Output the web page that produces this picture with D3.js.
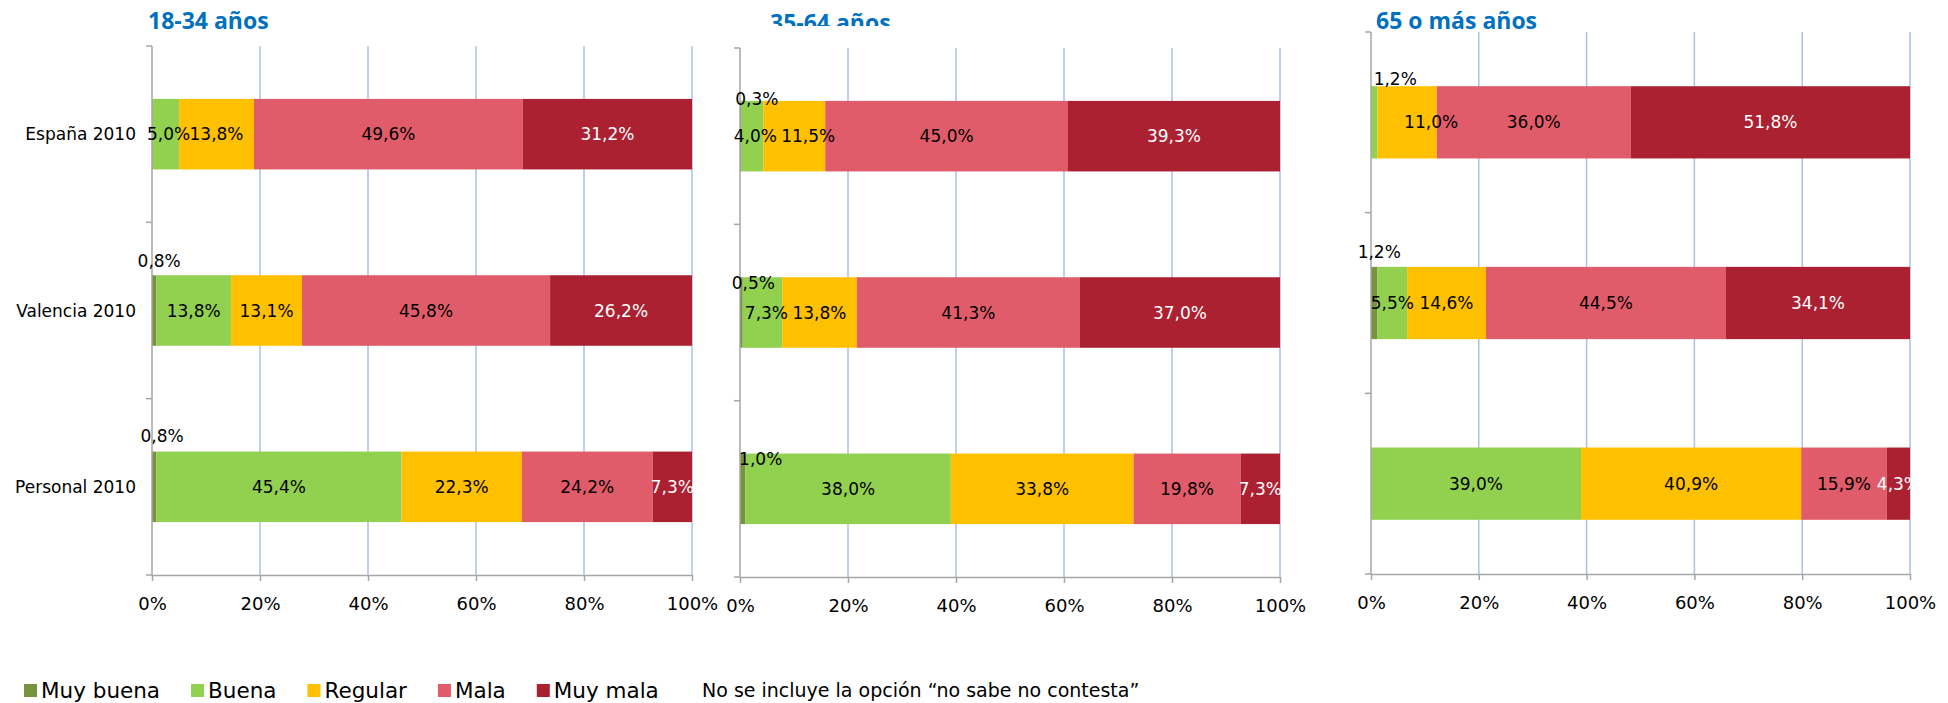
<!DOCTYPE html>
<html><head><meta charset="utf-8">
<script src="https://cdn.jsdelivr.net/npm/d3@7"></script>
<style>body{margin:0;background:#fff;} svg{display:block;}</style>
</head><body><svg id="c" width="1948" height="703"></svg>
<script>
// ---- data ----
const panels = ["18-34 años", "35-64 años", "65 o más años"];
const categories = ["España 2010", "Valencia 2010", "Personal 2010"];
const seriesNames = ["Muy buena", "Buena", "Regular", "Mala", "Muy mala"];
// rows: panel, columns: category
const muyBuena = [[0, 0.8, 0.8], [0.3, 0.5, 1.0], [0, 1.2, 0]];
const buena    = [[5.0, 13.8, 45.4], [4.0, 7.3, 38.0], [1.2, 5.5, 39.0]];
const regular  = [[13.8, 13.1, 22.3], [11.5, 13.8, 33.8], [11.0, 14.6, 40.9]];
const mala     = [[49.6, 45.8, 24.2], [45.0, 41.3, 19.8], [36.0, 44.5, 15.9]];
const muyMala  = [[31.2, 26.2, 7.3], [39.3, 37.0, 7.3], [51.8, 34.1, 4.3]];
const xTicks = [0, 0.2, 0.4, 0.6, 0.8, 1];
const note = "No se incluye la opción “no sabe no contesta”";

// ---- layout / style ----
const seriesValues = [muyBuena, buena, regular, mala, muyMala];
const colors = ["#77933C", "#92D050", "#FFC000", "#E05C6A", "#AB2131"];
const labelColors = ["#000", "#000", "#000", "#000", "#fff"];
const frames = [
  {x0: 152, x1: 692, y0: 46, y1: 575, titleX: 148, titleY: 29, showCats: true},
  {x0: 740, x1: 1280, y0: 48, y1: 577, titleX: 770, titleY: 31, clipTitle: 26},
  {x0: 1371, x1: 1910, y0: 32, y1: 574, titleX: 1376, titleY: 29}
];
// label nudges keyed "panel-category-series": [dx, dy]
const nudges = {
  "0-0-1": [3, 0],
  "0-1-0": [5, -50], "0-2-0": [8, -51],
  "1-0-0": [16, -37], "1-0-1": [3, 0], "1-0-2": [14, 0],
  "1-1-0": [12, -30], "1-1-1": [4, 0], "1-2-0": [18, -30],
  "2-0-1": [21, -43], "2-0-2": [24, 0], "2-1-0": [5, -51]
};
const FONT = "'DejaVu Sans', sans-serif";
const fmt = v => v.toFixed(1).replace(".", ",") + "%";

const svg = d3.select("#c");

panels.forEach((title, p) => {
  const f = frames[p];
  const g = svg.append("g");
  const x = d3.scaleLinear().domain([0, 1]).range([f.x0, f.x1]);
  const y = d3.scaleBand().domain(categories).range([f.y0, f.y1])
    .paddingInner(0.6).paddingOuter(0.3);

  const rows = categories.map((c, ci) => {
    const r = {cat: c};
    seriesNames.forEach((s, si) => r[s] = seriesValues[si][p][ci]);
    return r;
  });
  const stacked = d3.stack().keys(seriesNames).offset(d3.stackOffsetExpand)(rows);

  // gridlines
  g.append("g").selectAll("line").data(xTicks.filter(t => t > 0)).join("line")
    .attr("x1", d => x(d)).attr("x2", d => x(d))
    .attr("y1", f.y0).attr("y2", f.y1)
    .attr("stroke", "#ABC1E6").attr("stroke-width", 1.5);

  // bars
  stacked.forEach((layer, si) => {
    g.append("g").selectAll("rect").data(layer).join("rect")
      .attr("x", d => x(d[0]))
      .attr("width", d => Math.max(0, x(d[1]) - x(d[0])))
      .attr("y", d => y(d.data.cat))
      .attr("height", y.bandwidth())
      .attr("fill", colors[si]);
  });

  // axes
  const axisColor = "#A6A6A6";
  const step = y.step();
  const yb = d3.range(categories.length + 1).map(i => f.y0 + i * step);
  g.append("line").attr("x1", f.x0).attr("x2", f.x0).attr("y1", f.y0).attr("y2", f.y1)
    .attr("stroke", axisColor).attr("stroke-width", 1.5);
  g.append("g").selectAll("line").data(yb).join("line")
    .attr("x1", f.x0 - 6).attr("x2", f.x0).attr("y1", d => d).attr("y2", d => d)
    .attr("stroke", axisColor).attr("stroke-width", 1.5);

  const xa = g.append("g").attr("transform", `translate(0,${f.y1})`)
    .call(d3.axisBottom(x).tickValues(xTicks).tickFormat(d3.format(".0%"))
      .tickSize(6).tickSizeOuter(0).tickPadding(16));
  xa.select(".domain").attr("stroke", axisColor).attr("stroke-width", 1.5);
  xa.selectAll(".tick line").attr("stroke", axisColor).attr("stroke-width", 1.5);
  xa.selectAll("text").attr("font-family", FONT).attr("font-size", 18).attr("fill", "#000");

  // category labels
  if (f.showCats) {
    g.append("g").selectAll("text").data(categories).join("text")
      .attr("x", f.x0 - 16).attr("y", d => y(d) + y.bandwidth() / 2)
      .attr("text-anchor", "end").attr("dominant-baseline", "central")
      .attr("font-family", FONT).attr("font-size", 17).attr("fill", "#000")
      .text(d => d);
  }

  // data labels
  stacked.forEach((layer, si) => {
    layer.forEach((d, ci) => {
      const v = seriesValues[si][p][ci];
      if (!(v > 0)) return;
      const key = `${p}-${ci}-${si}`;
      const [dx, dy] = nudges[key] || [0, 0];
      g.append("text")
        .attr("x", (x(d[0]) + x(d[1])) / 2 + dx)
        .attr("y", y(d.data.cat) + y.bandwidth() / 2 + dy)
        .attr("text-anchor", "middle").attr("dominant-baseline", "central")
        .attr("font-family", FONT).attr("font-size", 17)
        .attr("fill", dy !== 0 ? "#000" : labelColors[si])
        .text(fmt(v));
    });
  });

  // title
  const t = svg.append("text")
    .attr("x", f.titleX).attr("y", f.titleY)
    .attr("font-family", "'Open Sans', sans-serif").attr("font-weight", 700)
    .attr("font-size", 23).attr("fill", "#0070C0").text(title);
  if (f.clipTitle) {
    svg.append("clipPath").attr("id", "clipT" + p).append("rect")
      .attr("x", 0).attr("y", 0).attr("width", 1948).attr("height", f.clipTitle);
    t.attr("clip-path", `url(#clipT${p})`);
  }
});

// legend
const leg = svg.append("g");
let lx = 24;
const ly = 690;
seriesNames.forEach((s, i) => {
  leg.append("rect").attr("x", lx).attr("y", ly - 6).attr("width", 13).attr("height", 13)
    .attr("fill", colors[i]);
  const tx = leg.append("text").attr("x", lx + 17).attr("y", ly)
    .attr("dominant-baseline", "central")
    .attr("font-family", FONT).attr("font-size", 21.5).attr("fill", "#000").text(s);
  lx = lx + 17 + tx.node().getComputedTextLength() + 31;
});
leg.append("text").attr("x", 702).attr("y", ly).attr("dominant-baseline", "central")
  .attr("font-family", FONT).attr("font-size", 19).attr("fill", "#000").text(note);
</script>
</body></html>
